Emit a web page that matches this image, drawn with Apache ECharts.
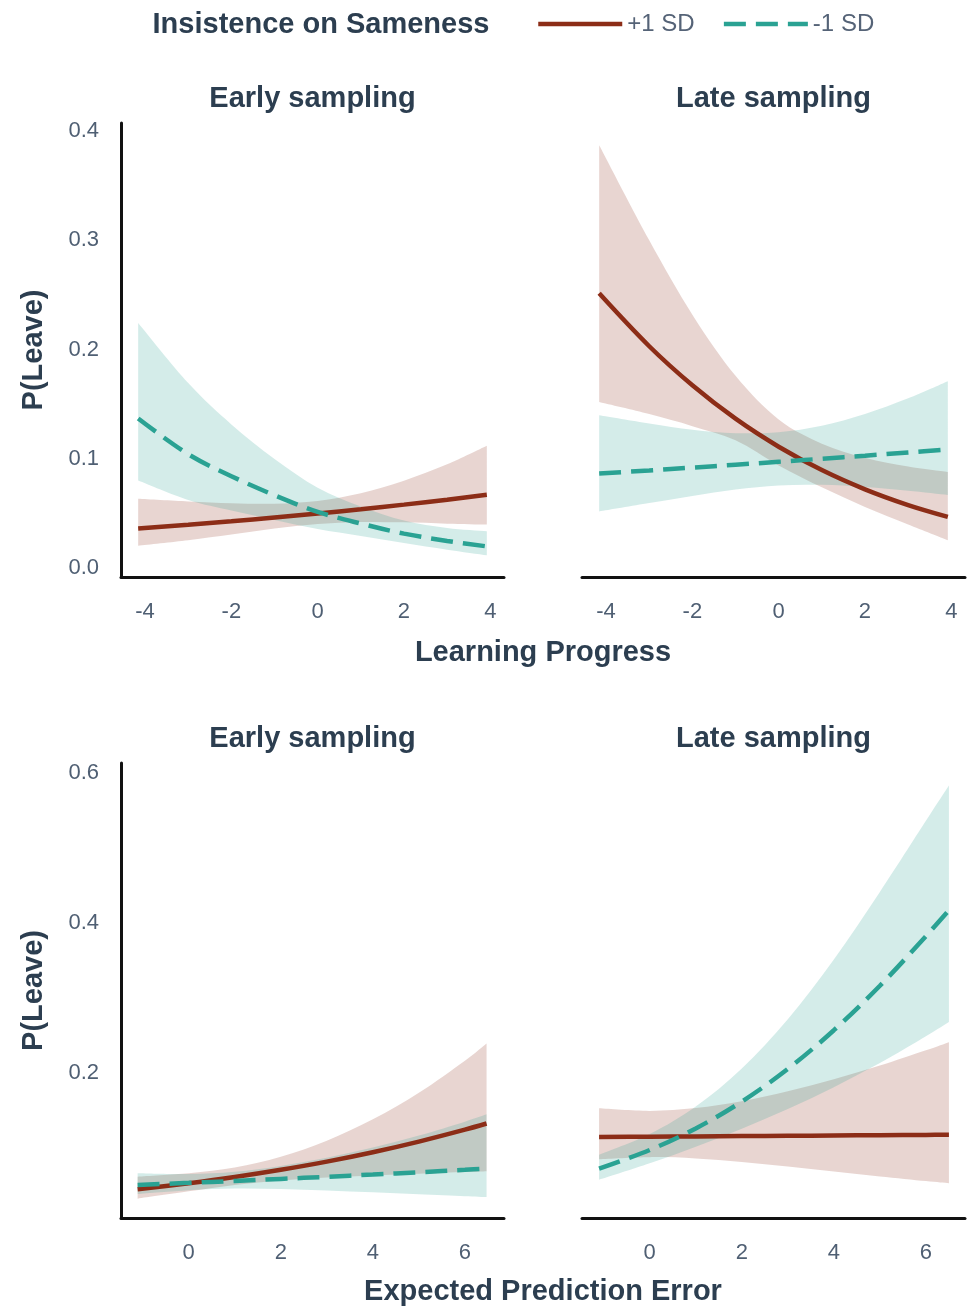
<!DOCTYPE html>
<html>
<head>
<meta charset="utf-8">
<script src="https://cdn.jsdelivr.net/npm/echarts@6/dist/echarts.min.js"></script>
<style>
  html, body { margin: 0; padding: 0; background: #ffffff; }
  #chart { width: 968px; height: 1306px; }
</style>
</head>
<body>
<div id="chart"></div>
<script>
// ---------------- data ----------------
const legendNames = ['+1 SD', '-1 SD'];
const panelTitles = ['Early sampling', 'Late sampling', 'Early sampling', 'Late sampling'];
const xTitleTop = 'Learning Progress';
const xTitleBottom = 'Expected Prediction Error';
const yTitle = 'P(Leave)';

const topXTicks = [-4, -2, 0, 2, 4];
const topYTicks = [0, 0.1, 0.2, 0.3, 0.4];
const bottomXTicks = [0, 2, 4, 6];
const bottomYTicks = [0.2, 0.4, 0.6];

// Learning Progress panels
const xLP = [-4.16, -3, -2, -1, 0, 1, 2, 3, 3.92];

const earlyLP_plus    = [0.0364, 0.0398, 0.0429, 0.0464, 0.0500, 0.0540, 0.0582, 0.0627, 0.0673];
const earlyLP_plusHi  = [0.0635, 0.0611, 0.0595, 0.0591, 0.0616, 0.0686, 0.0801, 0.0951, 0.1121];
const earlyLP_plusLo  = [0.0207, 0.0257, 0.0309, 0.0363, 0.0405, 0.0423, 0.0420, 0.0408, 0.0400];
const earlyLP_minus   = [0.1370, 0.1043, 0.0842, 0.0668, 0.0516, 0.0409, 0.0317, 0.0250, 0.0200];
const earlyLP_minusHi = [0.2244, 0.1694, 0.1316, 0.1000, 0.0737, 0.0565, 0.0436, 0.0368, 0.0338];
const earlyLP_minusLo = [0.0802, 0.0624, 0.0528, 0.0441, 0.0359, 0.0295, 0.0230, 0.0169, 0.0118];

const lateLP_plus     = [0.2515, 0.2031, 0.1674, 0.1368, 0.1112, 0.0898, 0.0722, 0.0578, 0.0470];
const lateLP_plusHi   = [0.3870, 0.3000, 0.2320, 0.1760, 0.1360, 0.1140, 0.1010, 0.0930, 0.0880];
const lateLP_plusLo   = [0.1520, 0.1410, 0.1300, 0.1170, 0.0940, 0.0740, 0.0560, 0.0400, 0.0256];
const lateLP_minus    = [0.0867, 0.0895, 0.0921, 0.0947, 0.0974, 0.1002, 0.1030, 0.1059, 0.1086];
const lateLP_minusHi  = [0.1400, 0.1325, 0.1267, 0.1236, 0.1245, 0.1304, 0.1411, 0.1554, 0.1711];
const lateLP_minusLo  = [0.0519, 0.0596, 0.0662, 0.0721, 0.0758, 0.0763, 0.0743, 0.0709, 0.0671];

// Expected Prediction Error panels
const xEPEearly = [-1.11, 0, 1, 2, 3, 4, 5, 6, 6.47];
const xEPElate  = [-1.10, 0, 1, 2, 3, 4, 5, 6, 6.50];

const earlyEPE_plus    = [0.0453, 0.0534, 0.0617, 0.0713, 0.0822, 0.0947, 0.1089, 0.1248, 0.1330];
const earlyEPE_plusHi  = [0.0622, 0.0667, 0.0744, 0.0887, 0.1101, 0.1385, 0.1739, 0.2167, 0.2396];
const earlyEPE_plusLo  = [0.0329, 0.0426, 0.0511, 0.0571, 0.0610, 0.0638, 0.0662, 0.0684, 0.0695];
const earlyEPE_minus   = [0.0512, 0.0539, 0.0565, 0.0592, 0.0620, 0.0650, 0.0681, 0.0713, 0.0729];
const earlyEPE_minusHi = [0.0668, 0.0657, 0.0688, 0.0765, 0.0874, 0.1010, 0.1170, 0.1355, 0.1452];
const earlyEPE_minusLo = [0.0391, 0.0442, 0.0463, 0.0457, 0.0437, 0.0413, 0.0388, 0.0362, 0.0351];

const lateEPE_plus     = [0.1150, 0.1154, 0.1158, 0.1162, 0.1166, 0.1170, 0.1174, 0.1178, 0.1180];
const lateEPE_plusHi   = [0.1532, 0.1498, 0.1536, 0.1627, 0.1760, 0.1919, 0.2102, 0.2306, 0.2414];
const lateEPE_plusLo   = [0.0855, 0.0882, 0.0865, 0.0818, 0.0756, 0.0690, 0.0625, 0.0563, 0.0534];
const lateEPE_minus    = [0.0729, 0.0977, 0.1264, 0.1622, 0.2057, 0.2573, 0.3165, 0.3826, 0.4173];
const lateEPE_minusHi  = [0.0913, 0.1189, 0.1555, 0.2062, 0.2719, 0.3514, 0.4413, 0.5362, 0.5832];
const lateEPE_minusLo  = [0.0580, 0.0799, 0.1021, 0.1261, 0.1523, 0.1814, 0.2135, 0.2492, 0.2682];

// ---------------- styling ----------------
const RED = '#8c2d17';
const TEAL = '#2aa293';
const RED_BAND = 'rgba(140,45,23,0.2)';
const TEAL_BAND = 'rgba(42,162,147,0.2)';
const TITLE_COLOR = '#2c3e50';
const LABEL_COLOR = '#4f5f73';
const FONT = '"Liberation Sans", Arial, Helvetica, sans-serif';
const AXIS_LINE = { show: true, onZero: false, lineStyle: { color: '#111111', width: 3 } };

const chart = echarts.init(document.getElementById('chart'), null, { renderer: 'canvas' });

function pts(xs, ys) { return xs.map((x, i) => [x, ys[i]]); }

// Catmull-Rom spline through pixel points, as cubic Bezier segments
function splinePath(p) {
  let s = '';
  for (let i = 0; i < p.length - 1; i++) {
    const p0 = p[i - 1] || p[i], p1 = p[i], p2 = p[i + 1], p3 = p[i + 2] || p[i + 1];
    const c1x = p1[0] + (p2[0] - p0[0]) / 6, c1y = p1[1] + (p2[1] - p0[1]) / 6;
    const c2x = p2[0] - (p3[0] - p1[0]) / 6, c2y = p2[1] - (p3[1] - p1[1]) / 6;
    s += ' C' + c1x + ',' + c1y + ' ' + c2x + ',' + c2y + ' ' + p2[0] + ',' + p2[1];
  }
  return s;
}

function bandSeries(idx, xs, hi, lo, color, z) {
  return {
    type: 'custom', xAxisIndex: idx, yAxisIndex: idx, silent: true, z: z, clip: true,
    data: xs.map((x, i) => [x, lo[i], hi[i]]),
    encode: { x: 0, y: [1, 2] },
    renderItem: function (params, api) {
      if (params.dataIndex !== 0) return null;
      const up = xs.map((x, i) => api.coord([x, hi[i]]));
      const dn = xs.map((x, i) => api.coord([x, lo[i]])).reverse();
      const d = 'M' + up[0][0] + ',' + up[0][1] + splinePath(up) +
                ' L' + dn[0][0] + ',' + dn[0][1] + splinePath(dn) + ' Z';
      return { type: 'path', shape: { pathData: d }, style: { fill: color, stroke: null } };
    }
  };
}

function panelSeries(idx, xs, pl, ph, plo, ml, mh, mlo) {
  const common = { type: 'line', xAxisIndex: idx, yAxisIndex: idx, smooth: 0.34, symbol: 'none', silent: true };
  return [
    bandSeries(idx, xs, ph, plo, RED_BAND, 1),
    bandSeries(idx, xs, mh, mlo, TEAL_BAND, 2),
    Object.assign({}, common, { name: legendNames[0], data: pts(xs, pl), itemStyle: { color: RED }, lineStyle: { color: RED, width: 4.5, type: 'solid' }, z: 3 }),
    Object.assign({}, common, { name: legendNames[1], data: pts(xs, ml), itemStyle: { color: TEAL }, lineStyle: { color: TEAL, width: 4.5, type: [22, 10] }, z: 4 })
  ];
}

const grids = [
  { left: 121, top: 123, width: 383, height: 454 },
  { left: 582, top: 123, width: 383, height: 454 },
  { left: 121, top: 763, width: 383, height: 455 },
  { left: 582, top: 763, width: 383, height: 455 }
];

function xAxisCfg(gi, min, max, ticks) {
  return {
    type: 'value', gridIndex: gi, min: min, max: max,
    axisLine: AXIS_LINE, axisTick: { show: false }, splitLine: { show: false },
    axisLabel: { customValues: ticks, color: LABEL_COLOR, fontSize: 22, fontFamily: FONT, margin: 24 }
  };
}
function yAxisCfg(gi, min, max, ticks, show) {
  return {
    type: 'value', gridIndex: gi, min: min, max: max,
    axisLine: show ? AXIS_LINE : { show: false }, axisTick: { show: false }, splitLine: { show: false },
    axisLabel: { show: show, customValues: ticks, color: LABEL_COLOR, fontSize: 22, fontFamily: FONT, margin: 22,
                 formatter: v => v.toFixed(1) },
    name: show ? yTitle : '', nameLocation: 'middle', nameGap: 73, nameRotate: 90,
    nameTextStyle: { color: TITLE_COLOR, fontSize: 29, fontWeight: 'bold', fontFamily: FONT }
  };
}

function titleAt(text, x, y, size, color, weight) {
  return { text: text, left: x, top: y, textAlign: 'center', textVerticalAlign: 'middle', padding: 0,
           textStyle: { color: color, fontSize: size, fontWeight: weight, fontFamily: FONT, lineHeight: size } };
}

const option = {
  animation: false,
  backgroundColor: '#ffffff',
  title: [
    titleAt('Insistence on Sameness', 321, 25, 29, TITLE_COLOR, 'bold'),
    titleAt(panelTitles[0], 312.5, 99, 29, TITLE_COLOR, 'bold'),
    titleAt(panelTitles[1], 773.5, 99, 29, TITLE_COLOR, 'bold'),
    titleAt(panelTitles[2], 312.5, 739, 29, TITLE_COLOR, 'bold'),
    titleAt(panelTitles[3], 773.5, 739, 29, TITLE_COLOR, 'bold'),
    titleAt(xTitleTop, 543, 653, 29, TITLE_COLOR, 'bold'),
    titleAt(xTitleBottom, 543, 1292, 29, TITLE_COLOR, 'bold')
  ],
  legend: {
    data: legendNames,
    left: 536, top: 12, padding: 0,
    itemWidth: 84, itemHeight: 14, itemGap: 27,
    itemStyle: { opacity: 0 },
    lineStyle: { width: 4.5 },
    textStyle: { color: '#556377', fontSize: 24, fontFamily: FONT },
    selectedMode: false
  },
  grid: grids,
  xAxis: [
    xAxisCfg(0, -4.558, 4.318, topXTicks),
    xAxisCfg(1, -4.558, 4.318, topXTicks),
    xAxisCfg(2, -1.471, 6.849, bottomXTicks),
    xAxisCfg(3, -1.471, 6.849, bottomXTicks)
  ],
  yAxis: [
    yAxisCfg(0, -0.008, 0.4073, topYTicks, true),
    yAxisCfg(1, -0.008, 0.4073, topYTicks, false),
    yAxisCfg(2, 0.0071, 0.6133, bottomYTicks, true),
    yAxisCfg(3, 0.0071, 0.6133, bottomYTicks, false)
  ],
  series: [].concat(
    panelSeries(0, xLP, earlyLP_plus, earlyLP_plusHi, earlyLP_plusLo, earlyLP_minus, earlyLP_minusHi, earlyLP_minusLo),
    panelSeries(1, xLP, lateLP_plus, lateLP_plusHi, lateLP_plusLo, lateLP_minus, lateLP_minusHi, lateLP_minusLo),
    panelSeries(2, xEPEearly, earlyEPE_plus, earlyEPE_plusHi, earlyEPE_plusLo, earlyEPE_minus, earlyEPE_minusHi, earlyEPE_minusLo),
    panelSeries(3, xEPElate, lateEPE_plus, lateEPE_plusHi, lateEPE_plusLo, lateEPE_minus, lateEPE_minusHi, lateEPE_minusLo)
  )
};

chart.setOption(option);
</script>
</body>
</html>
